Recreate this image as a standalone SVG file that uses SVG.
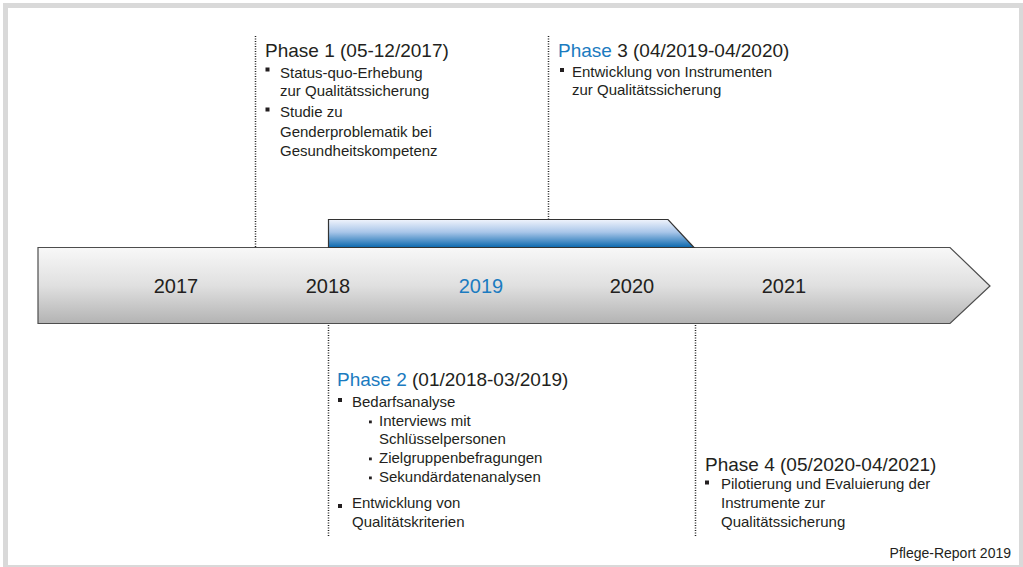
<svg xmlns="http://www.w3.org/2000/svg" width="1023" height="567" viewBox="0 0 1023 567">
  <defs>
    <linearGradient id="gTime" x1="0" y1="0" x2="0" y2="1">
      <stop offset="0" stop-color="#f8f8f8"/>
      <stop offset="0.5" stop-color="#e0e0e0"/>
      <stop offset="1" stop-color="#b3b3b3"/>
    </linearGradient>
    <linearGradient id="gBar" x1="0" y1="0" x2="0" y2="1">
      <stop offset="0" stop-color="#f0f4fc"/>
      <stop offset="0.45" stop-color="#a9c6e9"/>
      <stop offset="1" stop-color="#0a68ae"/>
    </linearGradient>
    <style>
      text { font-family: "Liberation Sans", Arial, sans-serif; fill: #231f20; }
      .ph { font-size: 19px; }
      .it { font-size: 15px; }
      .yr { font-size: 20px; text-anchor: middle; }
      .blue { fill: #1b7bc0; }
      .bul { fill: #231f20; }
      .dot { stroke: #222; stroke-width: 1.5; stroke-dasharray: 1 1.5; fill: none; }
    </style>
  </defs>
  <rect x="0" y="0" width="1023" height="567" fill="#ffffff"/>
  <rect id="frame" x="5.5" y="5.5" width="1016" height="562" fill="#ffffff" stroke="#d9d9d9" stroke-width="5"/>

  <g id="connectors">
    <line class="dot" x1="255.5" y1="36" x2="255.5" y2="247"/>
    <line class="dot" x1="548.5" y1="36" x2="548.5" y2="219"/>
    <line class="dot" x1="328.5" y1="325" x2="328.5" y2="537"/>
    <line class="dot" x1="695.5" y1="325" x2="695.5" y2="537"/>
  </g>

  <g id="timeline">
    <polygon points="38,247.5 950,247.5 990,286 950,323.5 38,323.5" fill="url(#gTime)" stroke="#4d4d4d" stroke-width="1.2"/>
  </g>

  <g id="bar">
    <polygon points="328.5,247.5 328.5,219.5 668,219.5 694,247.5" fill="url(#gBar)" stroke="#333" stroke-width="1.2"/>
  </g>

  <g id="years">
    <text class="yr" x="176" y="293">2017</text>
    <text class="yr" x="328" y="293">2018</text>
    <text class="yr blue" x="481" y="293">2019</text>
    <text class="yr" x="632" y="293">2020</text>
    <text class="yr" x="784" y="293">2021</text>
  </g>

  <g id="phase1">
    <text class="ph" x="265" y="57">Phase 1 (05-12/2017)</text>
    <rect class="bul" x="265.5" y="67.5" width="4" height="4"/>
    <text class="it" x="280" y="77.5">Status-quo-Erhebung</text>
    <text class="it" x="280" y="95.7">zur Qualitätssicherung</text>
    <rect class="bul" x="265.5" y="107.5" width="4" height="4"/>
    <text class="it" x="280" y="117.3">Studie zu</text>
    <text class="it" x="280" y="136.7">Genderproblematik bei</text>
    <text class="it" x="280" y="156">Gesundheitskompetenz</text>
  </g>

  <g id="phase3">
    <text class="ph" x="558" y="57"><tspan class="blue">Phase</tspan> 3 (04/2019-04/2020)</text>
    <rect class="bul" x="560" y="68" width="4" height="4"/>
    <text class="it" x="572" y="77">Entwicklung von Instrumenten</text>
    <text class="it" x="572" y="94.5">zur Qualitätssicherung</text>
  </g>

  <g id="phase2">
    <text class="ph" x="337" y="386"><tspan class="blue">Phase 2</tspan> (01/2018-03/2019)</text>
    <rect class="bul" x="338" y="398" width="4" height="4"/>
    <text class="it" x="352" y="407">Bedarfsanalyse</text>
    <rect class="bul" x="369" y="420.5" width="2.8" height="2.8"/>
    <text class="it" x="379" y="426">Interviews mit</text>
    <text class="it" x="379" y="444">Schlüsselpersonen</text>
    <rect class="bul" x="369" y="457.5" width="2.8" height="2.8"/>
    <text class="it" x="379" y="462.5">Zielgruppenbefragungen</text>
    <rect class="bul" x="369" y="476.5" width="2.8" height="2.8"/>
    <text class="it" x="379" y="481.7">Sekundärdatenanalysen</text>
    <rect class="bul" x="338" y="504" width="4" height="4"/>
    <text class="it" x="352" y="508.3">Entwicklung von</text>
    <text class="it" x="352" y="526.7">Qualitätskriterien</text>
  </g>

  <g id="phase4">
    <text class="ph" x="705" y="471">Phase 4 (05/2020-04/2021)</text>
    <rect class="bul" x="705" y="480.5" width="4" height="4"/>
    <text class="it" x="721" y="488.5">Pilotierung und Evaluierung der</text>
    <text class="it" x="721" y="507.5">Instrumente zur</text>
    <text class="it" x="721" y="526.7">Qualitätssicherung</text>
  </g>

  <g id="footer">
    <text x="1011" y="557.5" font-size="14" text-anchor="end">Pflege-Report 2019</text>
  </g>
</svg>
